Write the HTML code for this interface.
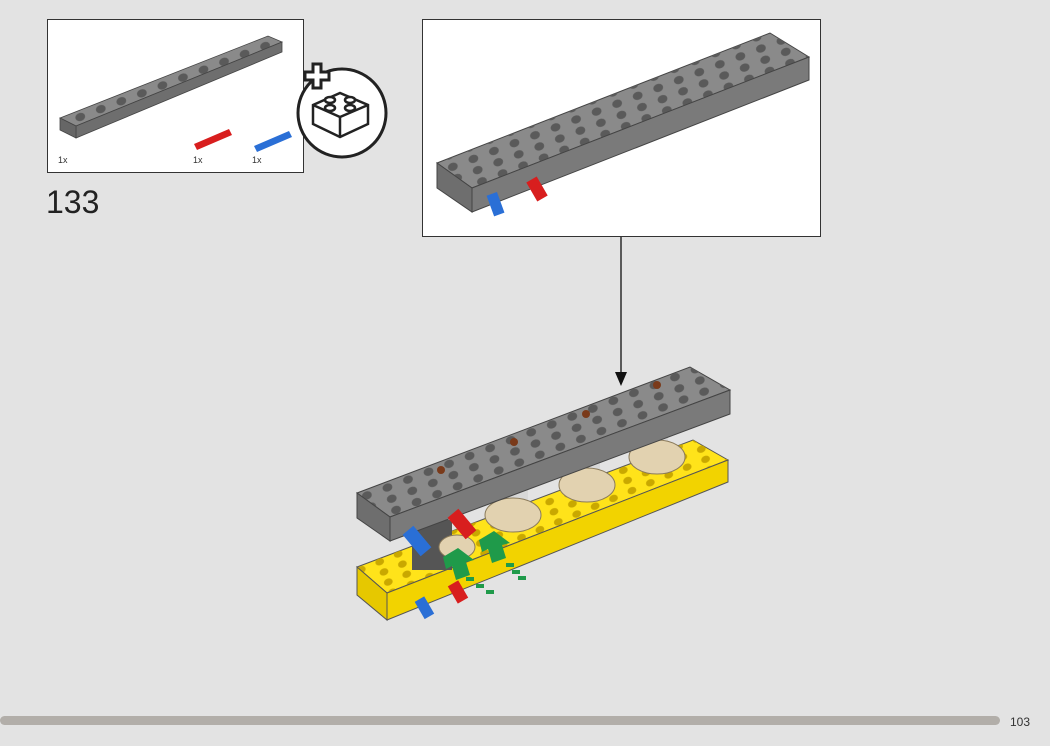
<!DOCTYPE html>
<html><head><meta charset="utf-8"><style>
html,body{margin:0;padding:0;background:#e3e3e3;}
body{width:1050px;height:746px;overflow:hidden;position:relative;font-family:"Liberation Sans",sans-serif;}
</style></head><body>
<svg width="1050" height="746" viewBox="0 0 1050 746" xmlns="http://www.w3.org/2000/svg" style="position:absolute;left:0;top:0">
<defs>
<pattern id="hg" width="22" height="12" patternUnits="userSpaceOnUse" patternTransform="rotate(-21)">
<ellipse cx="11" cy="6" rx="5" ry="4" fill="#5a5a5a"/></pattern>
<pattern id="hy" width="20" height="11" patternUnits="userSpaceOnUse" patternTransform="rotate(-23)">
<ellipse cx="10" cy="5.5" rx="4.5" ry="3.5" fill="#c9a800"/></pattern>
</defs>
<!-- parts box -->
<rect x="47.5" y="19.5" width="256" height="153" fill="#fff" stroke="#333" stroke-width="1"/>
<polygon points="60,118 268,36 282,42 76,126" fill="#8a8a8a" stroke="#444" stroke-width="0.8"/>
<polygon points="60,118 268,36 282,42 76,126" fill="url(#hg)"/>
<polygon points="76,126 282,42 282,52 76,138" fill="#6e6e6e" stroke="#444" stroke-width="0.8"/>
<polygon points="60,118 76,126 76,138 60,130" fill="#666" stroke="#444" stroke-width="0.8"/>
<polygon points="194,144 229,129 232,135 197,150" fill="#d81e1e"/>
<polygon points="254,146 289,131 292,137 257,152" fill="#2a6fd6"/>
<text x="58" y="163" font-size="9" fill="#333">1x</text>
<text x="193" y="163" font-size="9" fill="#333">1x</text>
<text x="252" y="163" font-size="9" fill="#333">1x</text>
<circle cx="342" cy="113" r="44" fill="#fff" stroke="#222" stroke-width="3"/>
<g stroke="#222" stroke-width="2.5" fill="#fff">
<polygon points="313,105 340,93 368,105 368,124 340,137 313,124"/>
<line x1="313" y1="105" x2="340" y2="117"/><line x1="368" y1="105" x2="340" y2="117"/><line x1="340" y1="117" x2="340" y2="137"/>
<ellipse cx="330" cy="100" rx="5" ry="3"/><ellipse cx="350" cy="100" rx="5" ry="3"/><ellipse cx="330" cy="108" rx="5" ry="3"/><ellipse cx="350" cy="108" rx="5" ry="3"/>
</g>
<path d="M305,72 h8 v-8 h8 v8 h8 v8 h-8 v8 h-8 v-8 h-8z" fill="#fff" stroke="#222" stroke-width="3"/>
<text x="46" y="213" font-size="32" fill="#222" font-weight="300">133</text>
<!-- big box -->
<rect x="422.5" y="19.5" width="398" height="217" fill="#fff" stroke="#333" stroke-width="1"/>
<polygon points="437,163 770,33 809,57 472,188" fill="#8a8a8a" stroke="#444"/>
<polygon points="437,163 770,33 809,57 472,188" fill="url(#hg)"/>
<polygon points="472,188 809,57 809,80 472,212" fill="#7a7a7a" stroke="#444"/>
<polygon points="437,163 472,188 472,212 437,188" fill="#6e6e6e" stroke="#444"/>
<rect x="490" y="193" width="11" height="22" fill="#2a6fd6" transform="rotate(-20 496 204)"/>
<rect x="531" y="178" width="12" height="22" fill="#d81e1e" transform="rotate(-30 537 189)"/>
<!-- arrow -->
<line x1="621" y1="237" x2="621" y2="376" stroke="#111" stroke-width="1.3"/>
<polygon points="615,372 627,372 621,386" fill="#111"/>
<!-- yellow beam -->
<polygon points="357,567 693,440 728,460 387,593" fill="#ffe31a" stroke="#555"/>
<polygon points="357,567 693,440 728,460 387,593" fill="url(#hy)"/>
<polygon points="387,593 728,460 728,482 387,620" fill="#f2d300" stroke="#555"/>
<polygon points="357,567 387,593 387,620 357,595" fill="#e6c800" stroke="#555"/>
<!-- axles & gears -->
<rect x="640" y="400" width="28" height="55" fill="#d8d8d8"/>
<rect x="572" y="425" width="28" height="58" fill="#d8d8d8"/>
<rect x="500" y="455" width="28" height="58" fill="#d8d8d8"/>
<rect x="412" y="520" width="40" height="50" fill="#555"/>
<ellipse cx="657" cy="457" rx="28" ry="17" fill="#e2d2b0" stroke="#8a7a5a"/>
<ellipse cx="587" cy="485" rx="28" ry="17" fill="#e2d2b0" stroke="#8a7a5a"/>
<ellipse cx="513" cy="515" rx="28" ry="17" fill="#e2d2b0" stroke="#8a7a5a"/>
<ellipse cx="457" cy="547" rx="18" ry="12" fill="#e2d2b0" stroke="#8a7a5a"/>
<!-- gray beam -->
<polygon points="357,493 690,367 730,390 390,517" fill="#8a8a8a" stroke="#444"/>
<polygon points="357,493 690,367 730,390 390,517" fill="url(#hg)"/>
<polygon points="390,517 730,390 730,414 390,541" fill="#7a7a7a" stroke="#444"/>
<polygon points="357,493 390,517 390,541 357,518" fill="#6e6e6e" stroke="#444"/>
<g fill="#7a3a1a"><circle cx="441" cy="470" r="4"/><circle cx="514" cy="442" r="4"/><circle cx="586" cy="414" r="4"/><circle cx="657" cy="385" r="4"/></g>
<!-- pins -->
<rect x="410" y="527" width="14" height="28" fill="#2a6fd6" transform="rotate(-40 417 541)"/>
<rect x="455" y="510" width="14" height="28" fill="#d81e1e" transform="rotate(-40 462 524)"/>
<rect x="419" y="598" width="11" height="20" fill="#2a6fd6" transform="rotate(-30 424 608)"/>
<rect x="452" y="582" width="12" height="20" fill="#d81e1e" transform="rotate(-30 458 592)"/>
<!-- green arrows -->
<polygon points="443,557 458,548 474,560 466,562 470,575 456,580 452,566 446,569" fill="#1f9a4a"/>
<polygon points="479,540 494,531 510,543 502,545 506,558 492,563 488,549 482,552" fill="#1f9a4a"/>
<g fill="#1f9a4a"><rect x="466" y="577" width="8" height="4"/><rect x="476" y="584" width="8" height="4"/><rect x="486" y="590" width="8" height="4"/><rect x="506" y="563" width="8" height="4"/><rect x="512" y="570" width="8" height="4"/><rect x="518" y="576" width="8" height="4"/></g>
<!-- footer -->
<rect x="0" y="716" width="1000" height="9" rx="4.5" fill="#b2aea9"/>
<text x="1010" y="726" font-size="12" fill="#333">103</text>
</svg>
</body></html>
